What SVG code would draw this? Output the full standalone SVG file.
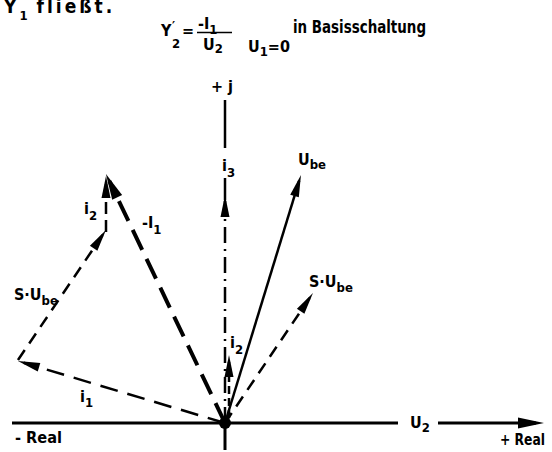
<svg xmlns="http://www.w3.org/2000/svg" width="552" height="452" viewBox="0 0 552 452">
<style>
text{font-family:"DejaVu Sans Condensed","Liberation Sans Narrow","Liberation Sans",sans-serif;font-weight:bold;fill:#000;font-size:16px}
.sub{font-size:13px}
.ax{stroke:#000;stroke-width:3;fill:none}
.v{stroke:#000;fill:none;stroke-width:2.5}
</style>
<defs>
<marker id="ah" markerUnits="userSpaceOnUse" markerWidth="22" markerHeight="9" refX="16" refY="4.5" orient="auto" overflow="visible"><path d="M0,0 L22,4.5 L0,9 z" fill="#000"/></marker>
<marker id="ahb" markerUnits="userSpaceOnUse" markerWidth="26" markerHeight="11" refX="18" refY="5.5" orient="auto" overflow="visible"><path d="M0,0 L26,5.5 L0,11 z" fill="#000"/></marker>
</defs>
<rect width="552" height="452" fill="#fff"/>
<g id="header">
<text x="4" y="13" style="font-size:19px;letter-spacing:3px">Y<tspan class="sub" dy="7">1</tspan><tspan dy="-7" dx="6">fließt.</tspan></text>
<text x="161" y="36">Y</text>
<text x="172" y="30" class="sub">′</text>
<text x="172" y="48" class="sub">2</text>
<text x="182" y="36">=</text>
<text x="198" y="29">-I<tspan class="sub" dy="5">1</tspan></text>
<line x1="197" y1="32.5" x2="232" y2="32.5" stroke="#000" stroke-width="1.5"/>
<text x="203" y="50">U<tspan class="sub" dy="3">2</tspan></text>
<text x="248" y="52">U<tspan class="sub" dy="4">1</tspan><tspan dy="-4">=0</tspan></text>
<text x="293" y="33" style="font-size:17px" textLength="133" lengthAdjust="spacingAndGlyphs">in Basisschaltung</text>
</g>
<g id="axes">
<line class="ax" x1="12" y1="423" x2="398" y2="423"/>
<line class="ax" x1="438" y1="423" x2="536" y2="423" marker-end="url(#ahb)"/>
<line class="ax" x1="225" y1="423" x2="225" y2="450"/>
<line class="v" x1="225" y1="100" x2="225" y2="148"/>
<line class="v" x1="225" y1="178" x2="225" y2="200"/>
<circle cx="225" cy="423" r="6" fill="#000"/>
<text x="211" y="92">+ j</text>
<text x="410" y="428">U<tspan class="sub" dy="4">2</tspan></text>
<text x="15" y="443" textLength="47" lengthAdjust="spacingAndGlyphs">- Real</text>
<text x="500" y="445" textLength="45" lengthAdjust="spacingAndGlyphs">+ Real</text>
</g>
<g id="connectors">
<line id="minusI1" x1="225" y1="423" x2="109.4" y2="181.2" stroke="#000" stroke-width="4" stroke-dasharray="22 10" marker-end="url(#ahb)"/>
<line id="i1" class="v" x1="225" y1="423" x2="23.7" y2="362.7" stroke-dasharray="18 10" marker-end="url(#ah)"/>
<line id="sube-left" class="v" x1="18" y1="360" x2="102.6" y2="235" stroke-dasharray="12 8" marker-end="url(#ah)"/>
<line id="i2-top" class="v" x1="106" y1="232" x2="106" y2="182" stroke-dasharray="12 6" marker-end="url(#ah)"/>
<line id="sube-right" class="v" x1="225" y1="423" x2="309.6" y2="298" stroke-dasharray="12 8" marker-end="url(#ah)"/>
<line id="ube" class="v" x1="225" y1="423" x2="299.2" y2="180.7" stroke-width="2" marker-end="url(#ah)"/>
<line id="i3" class="v" x1="225" y1="423" x2="225" y2="201" stroke-dasharray="16 6 2 6" marker-end="url(#ah)"/>
<line id="i2-small" class="v" x1="229" y1="418" x2="229" y2="361" stroke-dasharray="8 4" marker-end="url(#ah)"/>
</g>
<g id="labels">
<text x="298" y="165">U<tspan class="sub" dy="4">be</tspan></text>
<text x="309" y="287">S·U<tspan class="sub" dy="5">be</tspan></text>
<text x="14" y="300">S·U<tspan class="sub" dy="5">be</tspan></text>
<text x="142" y="228">-I<tspan class="sub" dy="6">1</tspan></text>
<text x="84" y="214">i<tspan class="sub" dy="6">2</tspan></text>
<text x="222" y="171">i<tspan class="sub" dy="6">3</tspan></text>
<text x="230" y="348">i<tspan class="sub" dy="6">2</tspan></text>
<text x="80" y="402">i<tspan class="sub" dy="5">1</tspan></text>
</g>
</svg>
